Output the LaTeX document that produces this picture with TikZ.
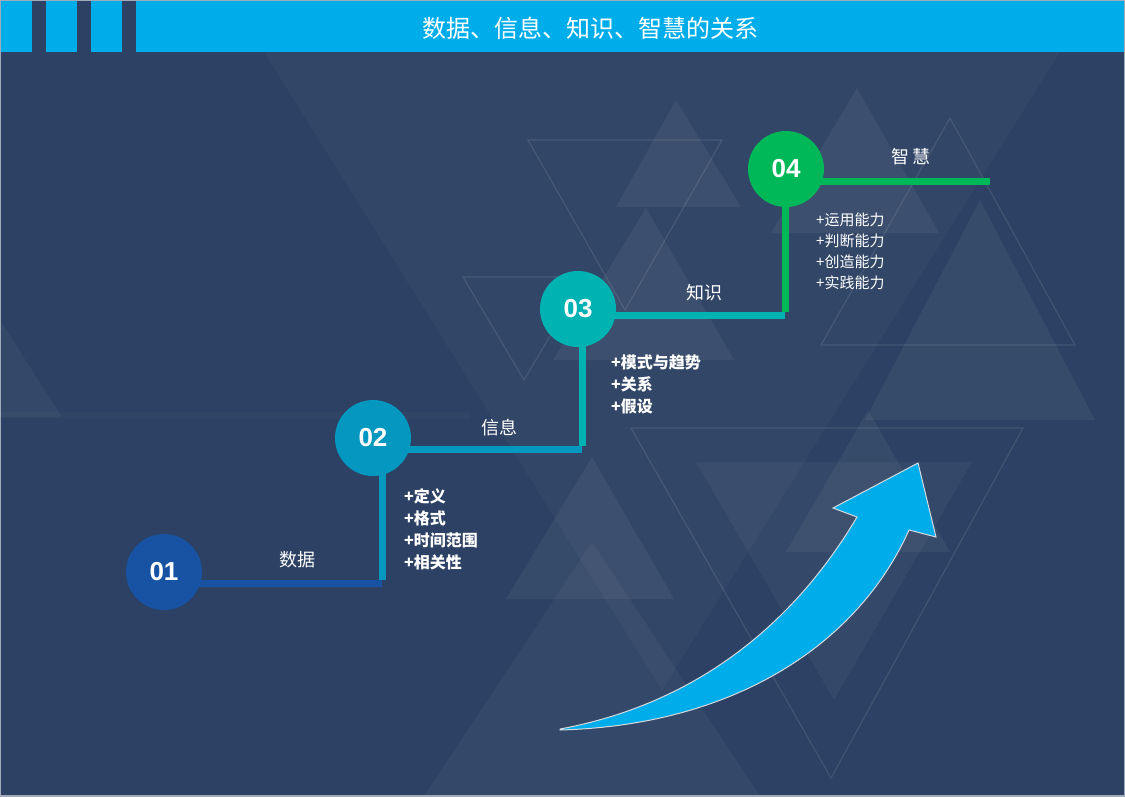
\documentclass[tikz,border=0pt]{standalone}
\usepackage{fontspec}
\setmainfont{Liberation Sans}
\newfontfamily\cjk{Noto Sans CJK SC}

\definecolor{bgblue}{HTML}{2C4163}
\definecolor{headblue}{HTML}{00ADEB}
\definecolor{colA}{HTML}{1752A3}
\definecolor{colB}{HTML}{0497BF}
\definecolor{colC}{HTML}{00B3B3}
\definecolor{colD}{HTML}{00B857}

\pgfdeclarelayer{back}
\pgfdeclarelayer{lines}
\pgfsetlayers{back,lines,main}

\tikzset{
  stepdot/.style={circle, fill=#1, minimum size=76pt, inner sep=0pt,
    text=white, font=\fontsize{26}{30}\selectfont\bfseries},
  stepline/.style={line width=7pt, draw=#1},
  steplabel/.style={text=white, font=\cjk\fontsize{18}{22}\selectfont},
  itemlist/.style={text=white, align=left, anchor=north west, inner sep=0pt},
  bgtri/.style={fill=white, fill opacity=0.05},
  bgedge/.style={draw=white, draw opacity=0.10, line width=1.2pt},
}

\begin{document}
\begin{tikzpicture}[x=1pt,y=-1pt]

\useasboundingbox (0,0) rectangle (1125,796);

\begin{pgfonlayer}{back}
\fill[bgblue] (0,0) rectangle (1125,796);

% Triangles
\fill[bgtri, fill opacity=0.03] (264,52) -- (1060,52) -- (662,690) -- cycle;
\fill[bgtri] (857,88) -- (939,233) -- (771,233) -- cycle;
\fill[bgtri] (676,100) -- (741,207) -- (616,207) -- cycle;
\fill[bgtri] (646,208) -- (734,360) -- (553,360) -- cycle;
\fill[bgtri] (980,200) -- (1095,420) -- (865,420) -- cycle;
\fill[bgtri] (868,410) -- (950,552) -- (786,552) -- cycle;
\fill[bgtri] (592,457) -- (674,599) -- (506,599) -- cycle;
\fill[bgtri, fill opacity=0.04] (696,462) -- (972,462) -- (834,700) -- cycle;
\fill[bgtri, fill opacity=0.04] (592,542) -- (760,796) -- (424,796) -- cycle;
\fill[bgtri, fill opacity=0.04] (0,320) -- (62,417) -- (0,417) -- cycle;
\fill[bgtri, fill opacity=0.02] (0,412) rectangle (470,419);

\draw[bgedge] (950,118) -- (1075,345) -- (821,345) -- cycle;
\draw[bgedge] (631,428) -- (1023,428) -- (831,778) -- cycle;
\draw[bgedge] (463,277) -- (585,277) -- (524,380) -- cycle;
\draw[bgedge] (528,140) -- (722,140) -- (625,310) -- cycle;

% Header
\fill[headblue] (0,0) rectangle (1125,52);
\fill[bgblue] (32,0) rectangle (46,52);
\fill[bgblue] (77,0) rectangle (91,52);
\fill[bgblue] (122,0) rectangle (136,52);
\end{pgfonlayer}

\node[font=\cjk\fontsize{24}{28}\selectfont, text=white]
(title)
at (590,28)
{数据、信息、知识、智慧的关系};

% Steps
\node[stepdot=colA] (c01) at (164,572) {01};
\node[stepdot=colB] (c02) at (373,438) {02};
\node[stepdot=colC] (c03) at (578,309) {03};
\node[stepdot=colD] (c04) at (786,169) {04};

% Corners of the steps
\coordinate (k12) at (382,583);
\coordinate (k23) at (582,449);
\coordinate (k34) at (785,315);
\coordinate (k4e) at (990,181);

\begin{pgfonlayer}{lines}
\draw[stepline=colA] (c01.center |- k12) -- (k12);
\draw[stepline=colB] (k12 |- c02.center) -- ([yshift=3.5pt]k12);
\draw[stepline=colB] (c02.center |- k23) -- (k23);
\draw[stepline=colC] (k23 |- c03.center) -- ([yshift=3.5pt]k23);
\draw[stepline=colC] (c03.center |- k34) -- (k34);
\draw[stepline=colD] (k34 |- c04.center) -- ([yshift=3.5pt]k34);
\draw[stepline=colD] (c04.center |- k4e) -- (k4e);
\end{pgfonlayer}

% Labels
\node[steplabel] (l01) at (297,560) {数据};
\node[steplabel] (l02) at (499,428) {信息};
\node[steplabel] (l03) at (704,293) {知识};
\node[steplabel] (l04) at (911,157) {智\,慧};

% Items
\node[itemlist, font=\cjk\bfseries\fontsize{16}{22}\selectfont]
(i02)
at (404,488)
{+定义\\+格式\\+时间范围\\+相关性};

\node[itemlist, font=\cjk\bfseries\fontsize{16}{22}\selectfont]
(i03)
at (611,355)
{+模式与趋势\\+关系\\+假设};

\node[itemlist, font=\cjk\fontsize{15}{21}\selectfont]
(i04)
at (816,213)
{+运用能力\\+判断能力\\+创造能力\\+实践能力};

% Arrow
\filldraw[fill=headblue, draw=white!80!bgblue, line width=1pt]
(560,729) .. controls (690,705) and (790,630) .. (857,517)
-- (833,508) -- (918,463) -- (936,537) -- (909,530)
.. controls (860,640) and (740,725) .. (560,730) -- cycle;

% Frame
\draw[white!55!bgblue, line width=1.5pt] (0,0) rectangle (1125,796);

\end{tikzpicture}
\end{document}
